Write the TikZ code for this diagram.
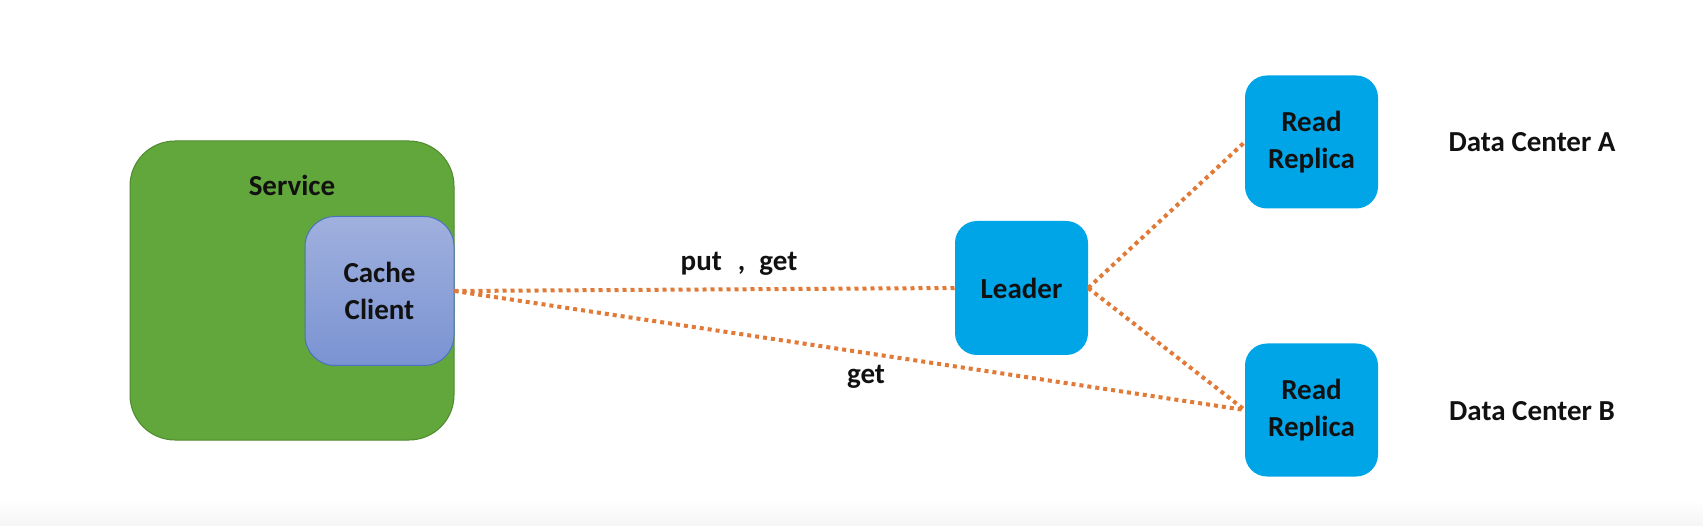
\documentclass[tikz,border=0pt]{standalone}
\usepackage{fontspec}
\setmainfont{Carlito}
\definecolor{svcgreen}{HTML}{62A73B}
\definecolor{svcborder}{HTML}{4E8A2E}
\definecolor{cctop}{HTML}{A0B0DE}
\definecolor{ccbot}{HTML}{7A93D2}
\definecolor{ccborder}{HTML}{4A72C0}
\definecolor{nodeblue}{HTML}{00A5E8}
\definecolor{linkorange}{HTML}{E07A36}
\definecolor{txt}{HTML}{111111}
\tikzset{
  lbl/.style={font=\bfseries\fontsize{29}{37}\selectfont, text=txt, align=center, inner sep=0pt},
  bluebox/.style={fill=nodeblue, draw=none, rounded corners=22pt, minimum width=133pt, minimum height=133pt, inner sep=0pt, lbl},
  link/.style={draw=linkorange, line width=4pt, dash pattern=on 4pt off 4pt},
}
\begin{document}
\begin{tikzpicture}[x=1pt,y=-1pt]
\useasboundingbox (0,0) rectangle (1703,526);
\fill[white] (0,0) rectangle (1703,526);
\shade[top color=white, bottom color=black!4] (0,500) rectangle (1703,526);
% service
\node[fill=svcgreen, draw=svcborder, line width=1pt, rounded corners=45pt, minimum width=324pt, minimum height=299pt, inner sep=0pt] (service) at (292,290.5) {};
\node[lbl] (servicelbl) at (292,185) {Service};
% cache client
\node[top color=cctop, bottom color=ccbot, draw=ccborder, line width=1pt, rounded corners=30pt, minimum width=149pt, minimum height=149pt, inner sep=0pt, lbl] (cc) at (379.5,291) {Cache\\Client};
% leader and replicas
\node[bluebox, minimum width=133pt, minimum height=134pt] (leader) at (1021.5,288) {Leader};
\node[bluebox] (rra) at (1311.5,142) {Read\\Replica};
\node[bluebox] (rrb) at (1311.5,410) {Read\\Replica};
% data center labels
\node[lbl] (dca) at (1532,142) {Data Center A};
\node[lbl] (dcb) at (1532,411) {Data Center B};
% links
\draw[link] (cc.east) -- (leader.west);
\draw[link] (cc.east) -- (rrb.west);
\draw[link] (leader.east) -- (rra.west);
\draw[link] (leader.east) -- (rrb.west);
% link labels
\node[lbl] (putget) at (739,264) {put\hspace{16pt},\hspace{14pt}get};
\node[lbl] (getlbl) at (866,377) {get};
\end{tikzpicture}
\end{document}
